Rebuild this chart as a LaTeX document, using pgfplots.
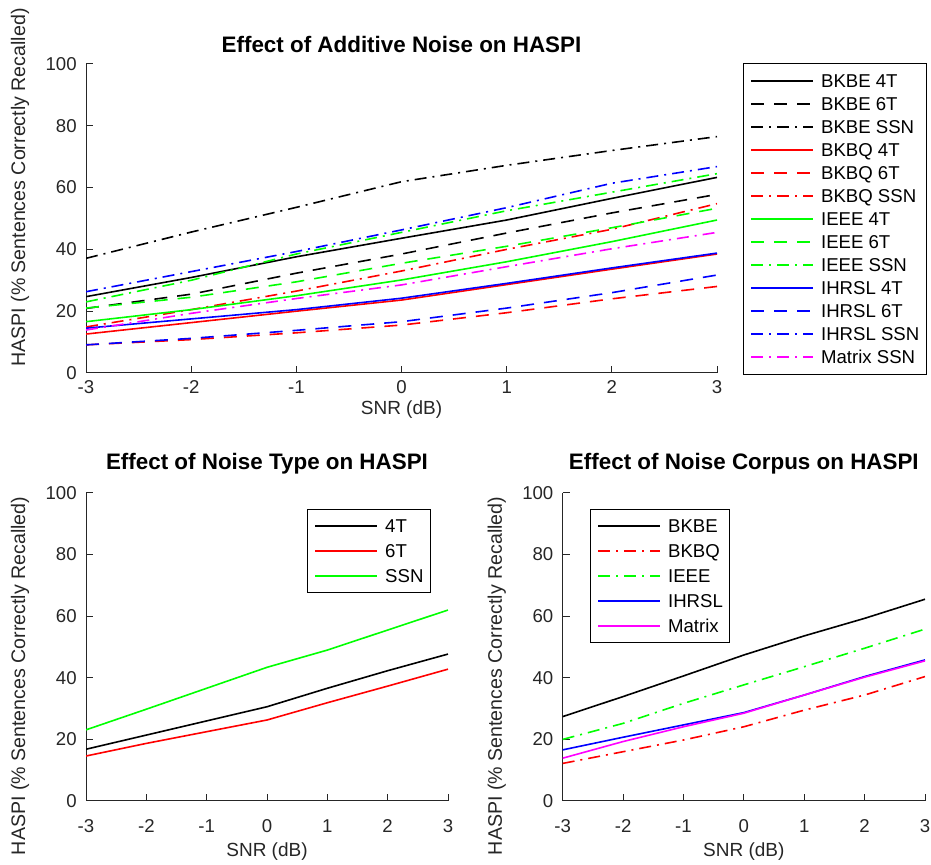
\documentclass[border=0pt]{standalone}
\usepackage{pgfplots}
\pgfplotsset{compat=1.18}
\usepackage{pgfplotstable}
\usepackage{fontspec}
\setmainfont{Liberation Sans}

\pgfplotstableread{
x   b4   b6   bs   q4   q6   qs   e4   e6   es   h4   h6   hs   ms
-3  24.7 20.9 37.1 12.6 9.1  14.9 16.6 21.0 23.0 14.5 9.1  26.3 13.9
-2  30.9 25.5 45.6 16.3 10.8 20.5 20.5 24.5 30.0 17.5 11.2 32.8 19.3
-1  37.6 32.3 53.6 20.0 13.0 26.5 25.0 29.5 38.5 20.5 13.8 39.3 24.1
0   43.6 38.5 61.9 23.6 15.5 33.0 30.1 35.5 45.5 24.2 16.6 46.3 28.5
1   49.5 45.3 67.2 28.6 19.5 40.0 36.0 41.0 52.5 29.0 21.0 53.5 34.4
2   56.5 51.8 72.0 33.6 24.0 46.5 42.5 47.0 58.5 34.0 26.0 61.4 40.2
3   63.3 57.8 76.5 38.5 28.0 54.8 49.5 53.3 64.5 38.8 31.7 66.8 45.5
}\additive

\pgfplotstableread{
x   t4   t6   ts
-3  16.8 14.6 23.1
-2  21.4 18.7 29.8
-1  26.0 22.5 36.6
0   30.6 26.3 43.4
1   36.6 31.9 49.0
2   42.3 37.3 55.5
3   47.7 42.8 62.0
}\ntype

\pgfplotstableread{
x   bk   bq   ie   ih   mx
-3  27.4 12.2 20.0 16.6 13.9
-2  33.9 16.0 25.2 20.7 19.3
-1  40.6 19.8 31.7 24.7 24.1
0   47.4 24.1 37.7 28.7 28.5
1   53.6 29.5 43.6 34.4 34.4
2   59.3 34.4 49.6 40.4 40.2
3   65.5 40.4 55.8 45.8 45.5
}\corpus

\definecolor{mk}{rgb}{0,0,0}
\definecolor{mr}{rgb}{1,0,0}
\definecolor{mg}{rgb}{0,1,0}
\definecolor{mb}{rgb}{0,0,1}
\definecolor{mm}{rgb}{1,0,1}
\definecolor{axc}{rgb}{0.15,0.15,0.15}

\tikzset{
  sdash/.style={dash pattern=on 6.5pt off 5pt},
  sdd/.style={dash pattern=on 6pt off 3pt on 1pt off 3pt},
}

\pgfplotsset{
  mstyle/.style={
    scale only axis,
    xmin=-3, xmax=3, ymin=0, ymax=100,
    xtick={-3,-2,-1,0,1,2,3}, ytick={0,20,40,60,80,100},
    axis x line*=bottom, axis y line*=left,
    axis line style={axc, line width=0.5pt, -},
    tick style={axc, line width=0.5pt},
    tick align=inside,
    major tick length=3.5pt,
    /pgf/number format/assume math mode=true,
    tick label style={font=\fontsize{9.3}{11}\selectfont, text=axc},
    yticklabel style={anchor=east, inner sep=0pt, xshift=-4.5pt},
    xticklabel style={anchor=center, inner sep=0pt, yshift=-12.5pt},
    label style={font=\fontsize{9.5}{11}\selectfont, text=axc},
    xlabel={SNR (dB)},
    ylabel={HASPI (\% Sentences Correctly Recalled)},
    xlabel style={at={([yshift=-25.5pt]axis description cs:0.5,0)}, anchor=center},
    ylabel style={font=\fontsize{9.8}{11}\selectfont, at={([xshift=-33pt]axis description cs:0,0.406)}, anchor=center},
    title style={font=\bfseries\fontsize{11.2}{13}\selectfont, at={([yshift=5.5pt]axis description cs:0.5,1)}, anchor=base},
    every axis plot/.append style={line width=0.8pt},
    legend cell align=left,
    legend image code/.code={\draw[line width=0.8pt,##1] (0pt,0pt) -- (31pt,0pt);},
    legend style={fill=white, line width=0.5pt,
      font=\fontsize{9.3}{11}\selectfont,
      inner xsep=3.5pt, inner ysep=4pt,
      nodes={inner sep=0pt, text height=7.5pt, text depth=1pt},
      row sep=4pt, column sep=3.5pt},
  }
}

\begin{document}
\begin{tikzpicture}
\useasboundingbox (0,0) rectangle (465.5pt,432.5pt);

% top axis
\begin{axis}[mstyle, at={(43pt,246pt)}, anchor=south west,
  width=315.5pt, height=154.5pt,
  title={Effect of Additive Noise on HASPI},
  title style={at={([yshift=-0.5pt]axis description cs:0.5,1)}},
  xticklabel style={yshift=5.5pt},
  xlabel style={at={([yshift=-18.5pt]axis description cs:0.5,0)}},
  ylabel style={at={([xshift=-33pt]axis description cs:0,0.60)}},
  legend style={at={(1.0412,1.0032)}, anchor=north west, row sep=3pt, inner ysep=4.5pt}]
\addplot[draw=mk] table[x=x,y=b4]{\additive};
\addplot[draw=mk,sdash] table[x=x,y=b6]{\additive};
\addplot[draw=mk,sdd] table[x=x,y=bs]{\additive};
\addplot[draw=mr] table[x=x,y=q4]{\additive};
\addplot[draw=mr,sdash] table[x=x,y=q6]{\additive};
\addplot[draw=mr,sdd] table[x=x,y=qs]{\additive};
\addplot[draw=mg] table[x=x,y=e4]{\additive};
\addplot[draw=mg,sdash] table[x=x,y=e6]{\additive};
\addplot[draw=mg,sdd] table[x=x,y=es]{\additive};
\addplot[draw=mb] table[x=x,y=h4]{\additive};
\addplot[draw=mb,sdash] table[x=x,y=h6]{\additive};
\addplot[draw=mb,sdd] table[x=x,y=hs]{\additive};
\addplot[draw=mm,sdd] table[x=x,y=ms]{\additive};
\legend{BKBE 4T,BKBE 6T,BKBE SSN,BKBQ 4T,BKBQ 6T,BKBQ SSN,IEEE 4T,IEEE 6T,IEEE SSN,IHRSL 4T,IHRSL 6T,IHRSL SSN,Matrix SSN}
\end{axis}

% bottom left
\begin{axis}[mstyle, at={(43pt,32pt)}, anchor=south west,
  width=181pt, height=154pt,
  title={Effect of Noise Type on HASPI},
  legend style={at={(0.953,0.948)}, anchor=north east}]
\addplot[draw=mk] table[x=x,y=t4]{\ntype};
\addplot[draw=mr] table[x=x,y=t6]{\ntype};
\addplot[draw=mg] table[x=x,y=ts]{\ntype};
\legend{4T,6T,SSN}
\end{axis}

% bottom right
\begin{axis}[mstyle, at={(281.35pt,32pt)}, anchor=south west,
  width=181.15pt, height=154pt,
  title={Effect of Noise Corpus on HASPI},
  legend style={at={(0.0754,0.948)}, anchor=north west}]
\addplot[draw=mk] table[x=x,y=bk]{\corpus};
\addplot[draw=mr,sdd] table[x=x,y=bq]{\corpus};
\addplot[draw=mg,sdd] table[x=x,y=ie]{\corpus};
\addplot[draw=mb] table[x=x,y=ih]{\corpus};
\addplot[draw=mm] table[x=x,y=mx]{\corpus};
\legend{BKBE,BKBQ,IEEE,IHRSL,Matrix}
\end{axis}
\end{tikzpicture}
\end{document}
